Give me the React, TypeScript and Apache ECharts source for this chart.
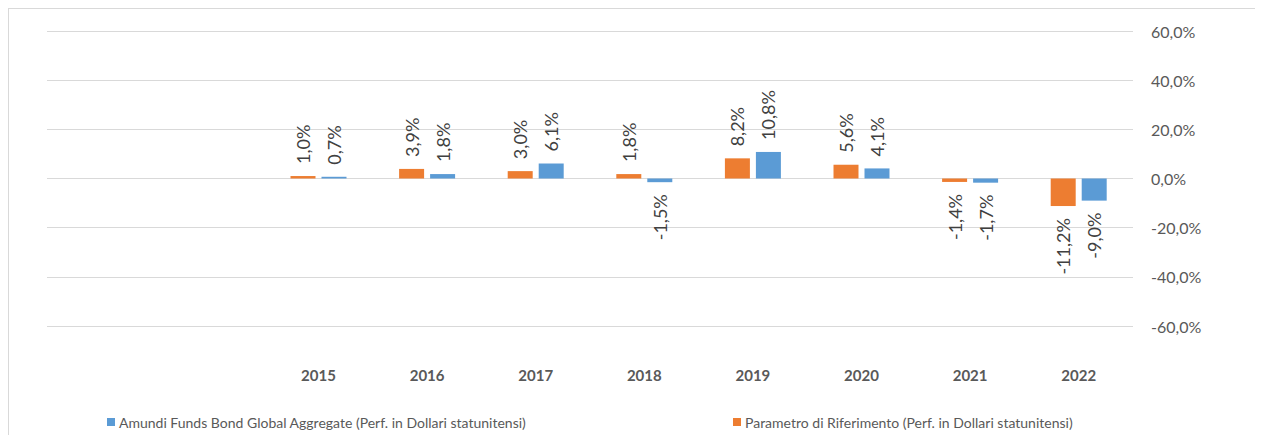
import React, { useEffect, useRef } from "react";
import * as echarts from "echarts";

const categories = [" ", "  ", "2015", "2016", "2017", "2018", "2019", "2020", "2021", "2022"];
const fundName = "Amundi Funds Bond Global Aggregate (Perf. in Dollari statunitensi)";
const benchName = "Parametro di Riferimento (Perf. in Dollari statunitensi)";
const fundValues: (number | null)[] = [null, null, 0.7, 1.8, 6.1, -1.5, 10.8, 4.1, -1.7, -9.0];
const benchValues: (number | null)[] = [null, null, 1.0, 3.9, 3.0, 1.8, 8.2, 5.6, -1.4, -11.2];
const yMin = -60;
const yMax = 60;
const yInterval = 20;

const FONT = "Lato";
const fmt = (v: number) => v.toFixed(1).replace(".", ",") + "%";

function toItems(values: (number | null)[]) {
  return values.map((v) => {
    if (v === null) return null;
    const neg = v < 0;
    return {
      value: v,
      label: {
        position: neg ? "bottom" : "top",
        align: neg ? "right" : "left",
      },
    };
  });
}

export default function App() {
  const ref = useRef<HTMLDivElement>(null);
  useEffect(() => {
    if (!ref.current) return;
    const chart = echarts.init(ref.current, null, { renderer: "svg" });
    const labelCfg = {
      show: true,
      rotate: 90,
      verticalAlign: "middle",
      distance: 12,
      color: "#404040",
      fontFamily: FONT,
      fontSize: 18,
      formatter: (p: any) => fmt(p.value),
    };
    const legendText = { color: "#595959", fontSize: 14, fontFamily: FONT, padding: [0, 0, 0, -1] };
    chart.setOption({
      animation: false,
      textStyle: { fontFamily: FONT },
      grid: { left: 38, right: 130, top: 22, bottom: 109, containLabel: false },
      legend: [
        {
          data: [fundName],
          left: 93,
          top: 401,
          icon: "rect",
          itemWidth: 8,
          itemHeight: 8,
          itemGap: 4,
          textStyle: legendText,
        },
        {
          data: [benchName],
          left: 719,
          top: 401,
          icon: "rect",
          itemWidth: 8,
          itemHeight: 8,
          itemGap: 4,
          textStyle: legendText,
        },
      ],
      xAxis: {
        type: "category",
        data: categories,
        axisLine: { show: false },
        axisTick: { show: false },
        axisLabel: {
          margin: 41,
          color: "#595959",
          fontWeight: "bold",
          fontSize: 15,
          fontFamily: FONT,
          interval: 0,
        },
      },
      yAxis: {
        type: "value",
        position: "right",
        min: yMin,
        max: yMax,
        interval: yInterval,
        axisLine: { show: false },
        axisTick: { show: false },
        splitLine: { lineStyle: { color: "#d9d9d9", width: 1 } },
        axisLabel: {
          margin: 18,
          color: "#595959",
          fontSize: 16,
          fontFamily: FONT,
          formatter: (v: number) => fmt(v),
        },
      },
      series: [
        {
          name: benchName,
          type: "bar",
          data: toItems(benchValues),
          barWidth: 25,
          barGap: "24%",
          itemStyle: { color: "#ED7D31" },
          label: labelCfg,
        },
        {
          name: fundName,
          type: "bar",
          data: toItems(fundValues),
          barWidth: 25,
          barGap: "24%",
          itemStyle: { color: "#5B9BD5" },
          label: labelCfg,
        },
      ],
    });
    return () => chart.dispose();
  }, []);
  return (
    <div
      style={{
        width: 1255,
        height: 427,
        boxSizing: "border-box",
        borderTop: "1px solid #d9d9d9",
        borderLeft: "1px solid #d9d9d9",
        background: "#fff",
      }}
    >
      <div ref={ref} style={{ width: 1254, height: 426 }} />
    </div>
  );
}
